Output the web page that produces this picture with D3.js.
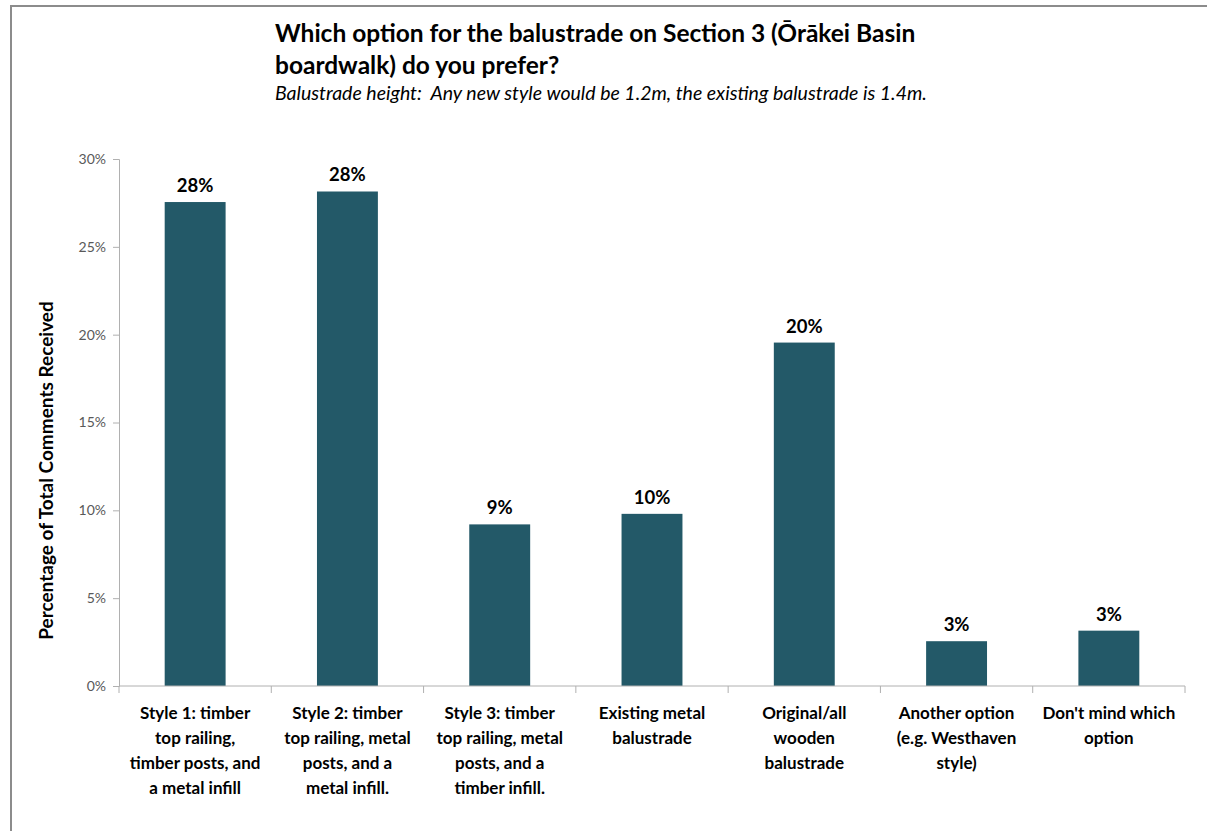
<!DOCTYPE html>
<html>
<head>
<meta charset="utf-8">
<script src="https://cdn.jsdelivr.net/npm/d3@7"></script>
<style>
  body { margin: 0; background: #fff; }
  text { font-family: Lato, "Open Sans", sans-serif; }
</style>
</head>
<body>
<svg id="chart"></svg>
<script>
// categories (one entry per bar, split into the lines shown under the axis)
var categories = [
  ["Style 1: timber", "top railing,", "timber posts, and", "a metal infill"],
  ["Style 2: timber", "top railing, metal", "posts, and a", "metal infill."],
  ["Style 3: timber", "top railing, metal", "posts, and a", "timber infill."],
  ["Existing metal", "balustrade"],
  ["Original/all", "wooden", "balustrade"],
  ["Another option", "(e.g. Westhaven", "style)"],
  ["Don't mind which", "option"]
];
var values = [27.55, 28.15, 9.2, 9.8, 19.55, 2.55, 3.15];
var yTicks = [0, 5, 10, 15, 20, 25, 30];
var titleLines = ["Which option for the balustrade on Section 3 (\u014Cr\u0101kei Basin", "boardwalk) do you prefer?"];
var subtitle = "Balustrade height:  Any new style would be 1.2m, the existing balustrade is 1.4m.";
var yTitle = "Percentage of Total Comments Received";

var W = 1207, H = 831;
var margin = { top: 159, right: 22, bottom: 145, left: 119 },
  width = W - margin.left - margin.right,
  height = H - margin.top - margin.bottom;

var root = d3.select("#chart").attr("width", W).attr("height", H);

// outer frame (runs off the right and bottom of the picture)
root.append("rect")
  .attr("x", 11).attr("y", 6)
  .attr("width", W + 20).attr("height", H + 20)
  .attr("fill", "none")
  .attr("stroke", "#8c8c8c")
  .attr("stroke-width", 2);

// titles
var title = root.append("text")
  .attr("x", 275).attr("y", 42)
  .style("font-size", "24.5px")
  .style("font-weight", "bold")
  .attr("fill", "#000");
title.selectAll("tspan")
  .data(titleLines)
  .enter()
  .append("tspan")
  .attr("x", 275)
  .attr("dy", (d, i) => i === 0 ? 0 : 32)
  .text(d => d);

root.append("text")
  .attr("x", 275).attr("y", 100)
  .style("font-size", "19.5px")
  .style("font-style", "italic")
  .style("white-space", "pre")
  .text(subtitle);

var svg = root.append("g")
  .attr("transform", "translate(" + margin.left + "," + margin.top + ")");

var x = d3.scaleBand()
  .range([0, width])
  .paddingInner(0.6)
  .paddingOuter(0.3)
  .domain(d3.range(categories.length));

var xTick = d3.scaleBand()
  .range([0, width])
  .domain(d3.range(categories.length));

var y = d3.scaleLinear()
  .range([height, 0])
  .domain([0, 30]);

// bars
svg.selectAll(".bar")
  .data(values)
  .enter()
  .append("rect")
  .attr("class", "bar")
  .attr("x", (d, i) => x(i))
  .attr("width", x.bandwidth())
  .attr("y", d => y(d))
  .attr("height", d => height - y(d))
  .attr("fill", "#235968");

// value labels
svg.selectAll(".val")
  .data(values)
  .enter()
  .append("text")
  .attr("class", "val")
  .attr("x", (d, i) => x(i) + x.bandwidth() / 2)
  .attr("y", d => y(d) - 10)
  .attr("text-anchor", "middle")
  .style("font-size", "18.5px")
  .style("font-weight", "bold")
  .text(d => Math.round(d) + "%");

// y axis
var yAxis = svg.append("g")
  .call(d3.axisLeft(y).tickValues(yTicks).tickSize(6).tickPadding(7).tickFormat(d => d + "%"));
yAxis.select(".domain").attr("stroke", "#b0b0b0");
yAxis.selectAll(".tick line").attr("stroke", "#b0b0b0");
yAxis.selectAll(".tick text")
  .attr("fill", "#595959")
  .style("font-size", "14px")
  .style("font-family", "Lato, sans-serif");

// x axis: ticks at the band edges
var xAxis = svg.append("g")
  .attr("transform", "translate(0," + height + ")");
xAxis.append("line")
  .attr("x1", 0).attr("x2", width)
  .attr("stroke", "#b0b0b0");
xAxis.selectAll(".xt")
  .data(d3.range(categories.length + 1))
  .enter()
  .append("line")
  .attr("class", "xt")
  .attr("x1", d => d < categories.length ? xTick(d) : width)
  .attr("x2", d => d < categories.length ? xTick(d) : width)
  .attr("y1", 0).attr("y2", 7)
  .attr("stroke", "#b0b0b0");

var xl = xAxis.selectAll(".xl")
  .data(categories)
  .enter()
  .append("text")
  .attr("class", "xl")
  .attr("text-anchor", "middle")
  .style("font-size", "17px")
  .style("font-weight", "bold")
  .attr("transform", (d, i) => "translate(" + (xTick(i) + xTick.bandwidth() / 2) + ",33)");
xl.selectAll("tspan")
  .data(d => d)
  .enter()
  .append("tspan")
  .attr("x", 0)
  .attr("dy", (d, i) => i === 0 ? 0 : 25)
  .text(d => d);

// y axis title
svg.append("text")
  .attr("transform", "rotate(-90)")
  .attr("x", -(height / 2) - 48)
  .attr("y", -66)
  .attr("text-anchor", "middle")
  .style("font-size", "19px")
  .style("font-weight", "bold")
  .text(yTitle);
</script>
</body>
</html>
